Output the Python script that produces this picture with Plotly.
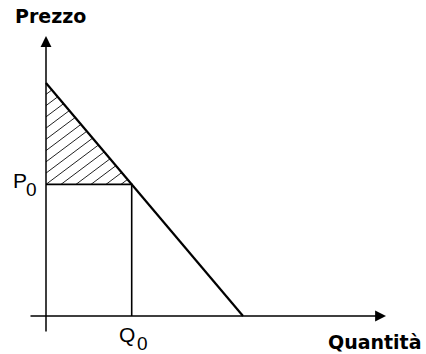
import plotly.graph_objects as go

# Linear demand curve: price intercept, quantity intercept, chosen point
p_max = 10.0
q_max = 10.0
q0 = 4.35
p0 = p_max * (1 - q0 / q_max)

axis_labels = ["Quantità", "Prezzo"]
point_labels = ["Q", "P"]
point_index = "0"

W, H = 426, 354
ORIGIN_X, ORIGIN_Y = 46, 316       # origin in pixels (from top-left)
PX_Q, PX_P = 19.7, 23.3            # pixels per unit on each axis


def dx(px):
    return (px - ORIGIN_X) / PX_Q


def dy(py):
    return (ORIGIN_Y - py) / PX_P


x_range = [dx(0), dx(W)]
y_range = [dy(H), dy(0)]

fig = go.Figure()

# Hatching of the consumer-surplus triangle: parallel lines, spaced in pixels
HATCH_STEP = 15.0      # horizontal spacing, px
HATCH_SLOPE = 0.75     # rise/run in pixels
tri_w = q0 * PX_Q
tri_h = (p_max - p0) * PX_P
hx, hy = [], []
j = -int(tri_h / (HATCH_SLOPE * HATCH_STEP)) - 1
while j * HATCH_STEP < tri_w:
    u0 = j * HATCH_STEP
    # line v = k(u - u0), clipped to u>=0, v>=0, v <= tri_h(1 - u/tri_w)
    ua = max(0.0, u0)
    va = HATCH_SLOPE * (ua - u0)
    ub = (tri_h + HATCH_SLOPE * u0) / (HATCH_SLOPE + tri_h / tri_w)
    vb = HATCH_SLOPE * (ub - u0)
    if ub > ua and va <= tri_h:
        hx += [ua / PX_Q, ub / PX_Q, None]
        hy += [p0 + va / PX_P, p0 + vb / PX_P, None]
    j += 1

fig.add_trace(go.Scatter(x=hx, y=hy, mode="lines",
                         line=dict(color="#222222", width=1),
                         hoverinfo="skip"))

# Reference lines at P0 and Q0
fig.add_trace(go.Scatter(x=[0, q0, q0], y=[p0, p0, 0], mode="lines",
                         line=dict(color="black", width=1.6),
                         hoverinfo="skip"))

# Demand curve
fig.add_trace(go.Scatter(x=[0, q_max], y=[p_max, 0], mode="lines",
                         line=dict(color="black", width=2.2),
                         hoverinfo="skip"))

# Axes with arrowheads
arrow = dict(showarrow=True, arrowhead=2, arrowsize=1.45, arrowwidth=1.5,
             arrowcolor="black", text="", xref="x", yref="y",
             axref="x", ayref="y", standoff=0)
fig.add_annotation(x=dx(386), y=0, ax=dx(29), ay=0, **arrow)
fig.add_annotation(x=0, y=dy(36), ax=0, ay=dy(333), **arrow)

# Axis titles
title_font = dict(family="DejaVu Sans", size=19, color="black")
fig.add_annotation(text="<b>%s</b>" % axis_labels[1], x=13 / W, y=1 - 16 / H,
                   xref="paper", yref="paper", xanchor="left", yanchor="middle",
                   showarrow=False, font=title_font)
fig.add_annotation(text="<b>%s</b>" % axis_labels[0], x=424 / W, y=1 - 342 / H,
                   xref="paper", yref="paper", xanchor="right", yanchor="middle",
                   showarrow=False, font=title_font)

# P0 and Q0 labels: letter with a full-size, lowered index
lab_font = dict(family="Liberation Sans Narrow, Liberation Sans, Arial", size=21,
                color="black")
idx_font = dict(family="Liberation Sans Narrow, Liberation Sans, Arial", size=19,
                color="black")
label_pos = [((117, 334), (135, 343)), ((11, 180), (24, 189))]
for name, ((lx, ly), (ix, iy)) in zip(point_labels, label_pos):
    fig.add_annotation(text=name, x=lx / W, y=1 - ly / H,
                       xref="paper", yref="paper", xanchor="left",
                       yanchor="middle", showarrow=False, font=lab_font)
    fig.add_annotation(text=point_index, x=ix / W, y=1 - iy / H,
                       xref="paper", yref="paper", xanchor="left",
                       yanchor="middle", showarrow=False, font=idx_font)

fig.update_layout(
    width=W, height=H, margin=dict(l=0, r=0, t=0, b=0),
    paper_bgcolor="white", plot_bgcolor="white", showlegend=False,
    xaxis=dict(range=x_range, visible=False, fixedrange=True),
    yaxis=dict(range=y_range, visible=False, fixedrange=True),
)

fig.write_html("out.html")
